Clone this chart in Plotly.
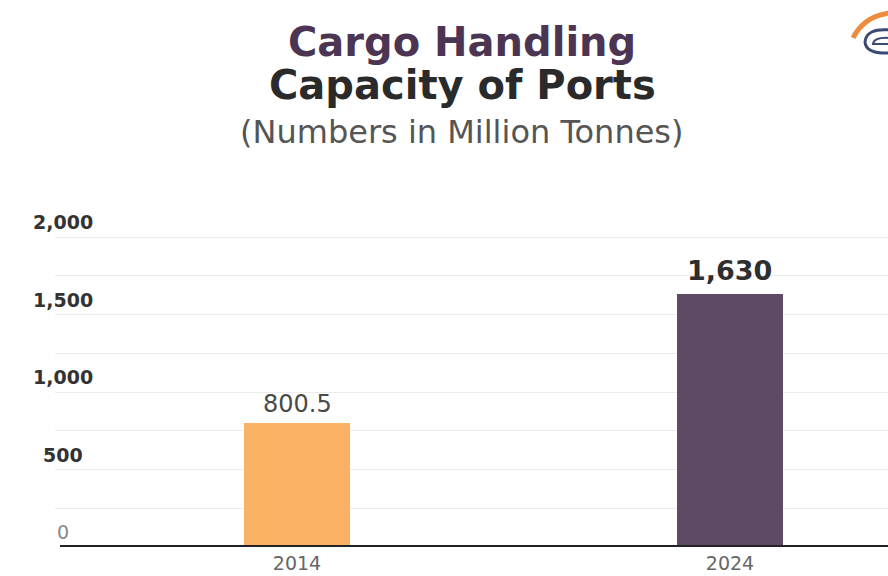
import plotly.graph_objects as go

years = ["2014", "2024"]
capacity = [800.5, 1630]
value_labels = ["800.5", "1,630"]
bar_colors = ["#F9B263", "#5E4A63"]
y_tick_vals = [0, 500, 1000, 1500, 2000]
y_tick_text = ["0", "500", "1,000", "1,500", "2,000"]

ML, MT, MB = 55, 200, 29
W, H = 888, 576
PW, PH = W - ML, H - MT - MB


def px(x):
    return (x - ML) / PW


def py(y):
    return (H - MB - y) / PH


fig = go.Figure()
fig.add_trace(go.Bar(
    x=years, y=capacity, marker=dict(color=bar_colors, line=dict(width=0)),
    width=0.245, showlegend=False, hoverinfo="skip",
))

# value labels above bars (category index positions)
label_styles = [
    dict(size=24, color="#4a4a4a", bold=False, shift=3),
    dict(size=27, color="#2e2e2e", bold=True, shift=6),
]
for i, (val, lab, st) in enumerate(zip(capacity, value_labels, label_styles)):
    fig.add_annotation(
        x=i, y=val, xref="x", yref="y", yanchor="bottom", xanchor="center",
        text=("<b>" + lab + "</b>") if st["bold"] else lab, showarrow=False, yshift=st["shift"],
        font=dict(family="DejaVu Sans", size=st["size"], color=st["color"]),
    )

for v, t in zip(y_tick_vals, y_tick_text):
    fig.add_annotation(
        x=px(63), xref="paper", y=v, yref="y", yanchor="bottom", xanchor="center",
        text="<b>" + t + "</b>" if v > 0 else t, showarrow=False, yshift=2,
        font=dict(family="DejaVu Sans", size=19, color="#333333" if v > 0 else "#888888"),
    )

title_items = [
    ("<b>Cargo Handling</b>", 42, 40, "#4B3553"),
    ("<b>Capacity of Ports</b>", 85, 40, "#2a2a2a"),
    ("(Numbers in Million Tonnes)", 132, 32, "#555555"),
]
for text, ypx, size, color in title_items:
    fig.add_annotation(
        x=px(462), xref="paper", y=py(ypx), yref="paper",
        text=text, showarrow=False, xanchor="center", yanchor="middle",
        font=dict(family="DejaVu Sans", size=size, color=color),
    )

fig.update_layout(
    width=W, height=H,
    margin=dict(l=ML, r=0, t=MT, b=MB, autoexpand=False),
    paper_bgcolor="white", plot_bgcolor="white",
    bargap=0,
    xaxis=dict(
        type="category", range=[-0.559, 1.365], showgrid=False, zeroline=False,
        showline=False, ticks="", ticklabelstandoff=3, automargin=False,
        tickfont=dict(family="DejaVu Sans", size=19, color="#666666"),
        fixedrange=True,
    ),
    yaxis=dict(
        range=[0, 2239], tickvals=[250 * i for i in range(1, 9)], showticklabels=False,
        gridcolor="#ececec", gridwidth=1, zeroline=False, showline=False, ticks="",
        fixedrange=True, automargin=False,
    ),
)

fig.add_shape(type="line", xref="paper", yref="y", x0=px(60), x1=1, y0=0, y1=0,
              line=dict(color="#222222", width=4))

# partial logo at top right
fig.add_shape(type="path", xref="paper", yref="paper",
              path=f"M {px(853):.4f},{py(38):.4f} Q {px(864):.4f},{py(16):.4f} {px(890):.4f},{py(13):.4f}",
              line=dict(color="#EE8B3C", width=5))
fig.add_shape(type="path", xref="paper", yref="paper",
              path=f"M {px(890):.4f},{py(30):.4f} Q {px(866):.4f},{py(28):.4f} {px(865):.4f},{py(42):.4f} Q {px(866):.4f},{py(54):.4f} {px(890):.4f},{py(53):.4f}",
              line=dict(color="#3B4A74", width=3))
fig.add_shape(type="path", xref="paper", yref="paper",
              path=f"M {px(890):.4f},{py(38):.4f} Q {px(874):.4f},{py(37):.4f} {px(873):.4f},{py(44):.4f} L {px(890):.4f},{py(44):.4f}",
              line=dict(color="#3B4A74", width=2))

fig.write_html("out.html")
